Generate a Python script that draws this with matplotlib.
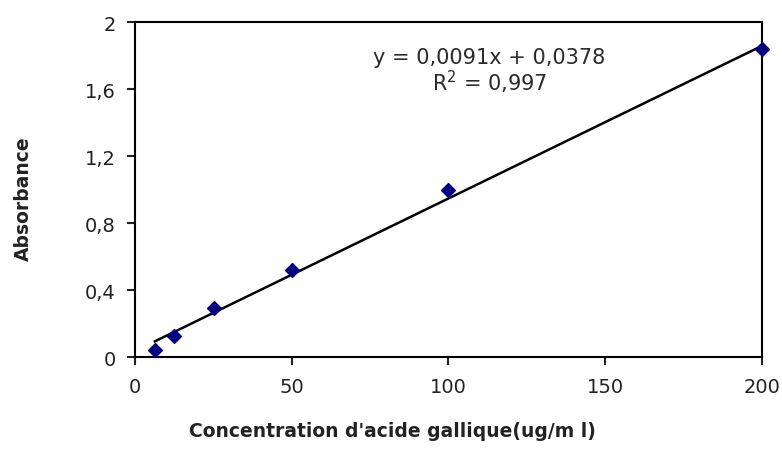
# Courbe d'étalonnage de l'acide gallique
import numpy as np
import matplotlib.pyplot as plt

plt.rcParams["font.family"] = ["DejaVu Sans"]

conc = [6.25, 12.5, 25, 50, 100, 200]
absorb = [0.045, 0.125, 0.295, 0.52, 1.0, 1.84]
slope = 0.0091
intercept = 0.0378

fig = plt.figure(figsize=(7.82, 4.64), dpi=100)
ax = fig.add_axes([0.173, 0.228, 0.801, 0.722])

x_fit = np.array([conc[0], conc[-1]])
ax.plot(x_fit, slope * x_fit + intercept, color="black", lw=1.8, zorder=2)
ax.scatter(conc, absorb, marker="D", s=50, color="#000080", zorder=3, clip_on=False)

ax.set_xlim(0, 200)
ax.set_ylim(0, 2)
ax.set_xticks([0, 50, 100, 150, 200])
ax.set_yticks([0, 0.4, 0.8, 1.2, 1.6, 2])
ax.set_yticklabels(["0", "0,4", "0,8", "1,2", "1,6", "2"])
ax.tick_params(direction="out", length=6, width=1.5, labelsize=14, colors="#222222", pad=8)
for s in ax.spines.values():
    s.set_linewidth(1.5)

ax.text(113, 1.795, "y = 0,0091x + 0,0378", ha="center", va="center", fontsize=15, color="#2a2a2a")
ax.text(113, 1.645, "R$^2$ = 0,997", ha="center", va="center", fontsize=15, color="#2a2a2a")

fig.text(0.03, 0.571, "Absorbance", rotation=90, ha="center", va="center",
         fontsize=13.5, fontweight="bold", color="#222222")
fig.text(0.502, 0.07, "Concentration d'acide gallique(ug/m l)", ha="center", va="center",
         fontsize=13.5, fontweight="bold", color="#222222")

fig.savefig("out.png", dpi=100)
